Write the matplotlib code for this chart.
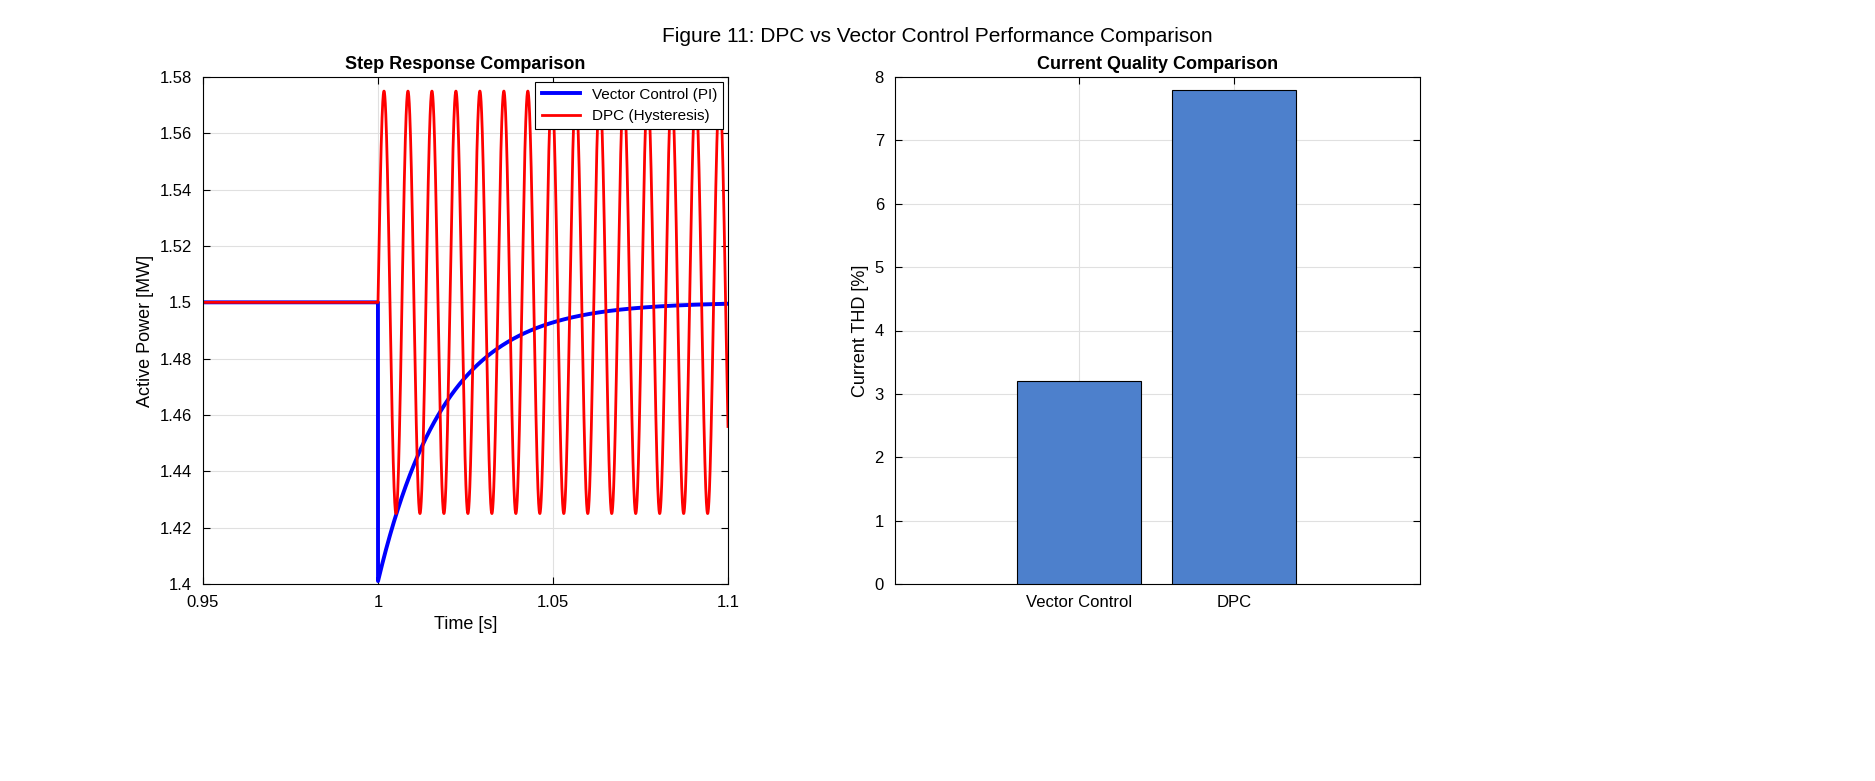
import numpy as np
import matplotlib.pyplot as plt

plt.rcParams["font.family"] = ["Liberation Sans", "DejaVu Sans"]

# values
p_ref = 1.5            # MW, steady-state active power
vc_dip = 0.099         # MW, initial dip of vector control at step
vc_tau = 0.019         # s, recovery time constant
dpc_amp = 0.075        # MW, hysteresis ripple amplitude
dpc_freq = 146.0       # Hz, ripple frequency
t_step = 1.0
t_start, t_end = 0.95, 1.1

methods = ["Vector Control", "DPC"]
thd = [3.2, 7.8]

t = np.linspace(t_start, t_end, 6000)
after = t >= t_step
vc = np.where(after, p_ref - vc_dip * np.exp(-(t - t_step) / vc_tau), p_ref)
dpc = np.where(after, p_ref + dpc_amp * np.sin(2 * np.pi * dpc_freq * (t - t_step)), p_ref)

fig = plt.figure(figsize=(18.75, 7.81), dpi=100)
fig.suptitle("Figure 11: DPC vs Vector Control Performance Comparison", fontsize=15, y=0.965)

ax1 = fig.add_axes([203 / 1875, 1 - 584 / 781, 525 / 1875, 507 / 781])
ax1.plot(t, vc, color="#0000ff", lw=2.8, label="Vector Control (PI)")
ax1.plot(t, dpc, color="#ff0000", lw=2.0, label="DPC (Hysteresis)")
ax1.set_xlim(t_start, t_end)
ax1.set_ylim(1.4, 1.58)
ax1.set_xticks([0.95, 1.0, 1.05, 1.1])
ax1.set_xticklabels(["0.95", "1", "1.05", "1.1"])
ax1.set_yticks(np.arange(1.4, 1.581, 0.02))
ax1.set_yticklabels(["1.4", "1.42", "1.44", "1.46", "1.48", "1.5", "1.52", "1.54", "1.56", "1.58"])
ax1.set_xlabel("Time [s]", fontsize=13)
ax1.set_ylabel("Active Power [MW]", fontsize=13)
ax1.set_title("Step Response Comparison", fontsize=13, fontweight="bold")
leg = ax1.legend(loc="upper right", fontsize=11, fancybox=False, framealpha=1,
                 edgecolor="black", borderaxespad=0.3, handlelength=2.5)
leg.get_frame().set_linewidth(0.8)

ax2 = fig.add_axes([895 / 1875, 1 - 584 / 781, 525 / 1875, 507 / 781])
ax2.bar([1, 2], thd, width=0.8, color="#4d80cc", edgecolor="black", linewidth=0.8, zorder=3)
ax2.set_xlim(-0.19, 3.2)
ax2.set_ylim(0, 8)
ax2.set_xticks([1, 2])
ax2.set_xticklabels(methods)
ax2.set_ylabel("Current THD [%]", fontsize=13)
ax2.set_title("Current Quality Comparison", fontsize=13, fontweight="bold")

for ax in (ax1, ax2):
    ax.grid(True, color="#e0e0e0", lw=0.8)
    ax.set_axisbelow(True)
    ax.tick_params(direction="in", top=True, right=True, labelsize=12, length=5, pad=8)
    for s in ax.spines.values():
        s.set_linewidth(0.8)

fig.savefig("out.png", dpi=100)
